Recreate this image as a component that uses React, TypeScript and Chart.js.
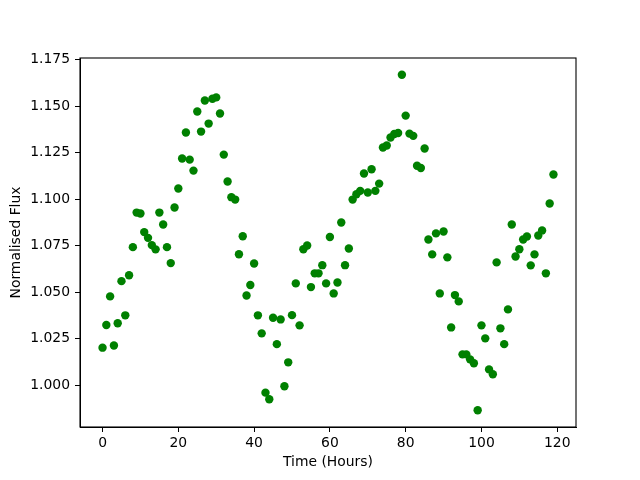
import React, { useEffect, useRef } from "react";
import { Chart, registerables } from "chart.js";

Chart.register(...registerables);

const hours: number[] = [
  0, 1, 2, 3, 4, 5, 6, 7, 8, 9, 10, 11, 12, 13, 14, 15, 16, 17, 18, 19,
  20, 21, 22, 23, 24, 25, 26, 27, 28, 29, 30, 31, 32, 33, 34, 35, 36, 37, 38, 39,
  40, 41, 42, 43, 44, 45, 46, 47, 48, 49, 50, 51, 52, 53, 54, 55, 56, 57, 58, 59,
  60, 61, 62, 63, 64, 65, 66, 67, 68, 69, 70, 71, 72, 73, 74, 75, 76, 77, 78, 79,
  80, 81, 82, 83, 84, 85, 86, 87, 88, 89, 90, 91, 92, 93, 94, 95, 96, 97, 98, 99,
  100, 101, 102, 103, 104, 105, 106, 107, 108, 109, 110, 111, 112, 113, 114, 115, 116, 117, 118, 119,
];

const flux: number[] = [
  1.0201, 1.0323, 1.0477, 1.0213, 1.0332, 1.0559, 1.0375, 1.0591, 1.0742, 1.0928,
  1.0923, 1.0823, 1.0792, 1.0753, 1.073, 1.0928, 1.0864, 1.0742, 1.0656, 1.0955,
  1.1058, 1.1219, 1.1359, 1.1213, 1.1154, 1.1472, 1.1364, 1.1531, 1.1407, 1.1541,
  1.1548, 1.1461, 1.124, 1.1095, 1.1011, 1.0998, 1.0704, 1.0801, 1.0482, 1.0538,
  1.0654, 1.0375, 1.0278, 0.9959, 0.9923, 1.0362, 1.022, 1.0353, 0.9993, 1.0122,
  1.0376, 1.0547, 1.0321, 1.0731, 1.0751, 1.0527, 1.0601, 1.0601, 1.0645, 1.0547,
  1.0797, 1.0493, 1.0552, 1.0875, 1.0645, 1.0735, 1.0998, 1.1027, 1.1045, 1.1138,
  1.1036, 1.1161, 1.1045, 1.1084, 1.1278, 1.1289, 1.1332, 1.1351, 1.1356, 1.167,
  1.145, 1.1353, 1.1341, 1.118, 1.1168, 1.1273, 1.0783, 1.0703, 1.0816, 1.0493,
  1.0826, 1.0687, 1.031, 1.0484, 1.045, 1.0165, 1.0165, 1.0138, 1.0117, 0.9864,
  1.0321, 1.0251, 1.0084, 1.0058, 1.066, 1.0305, 1.022, 1.0407, 1.0864, 1.0692,
  1.0731, 1.0783, 1.0799, 1.0644, 1.0703, 1.0805, 1.0832, 1.0601, 1.0977, 1.1133,
];

const xTicks: number[] = [0, 20, 40, 60, 80, 100, 120];
const yTicks: number[] = [1.0, 1.025, 1.05, 1.075, 1.1, 1.125, 1.15, 1.175];

const xLabel = "Time (Hours)";
const yLabel = "Normalised Flux";

const FONT = { family: "'DejaVu Sans', sans-serif", size: 13.9 };

const boxPlugin = {
  id: "frameBox",
  afterDatasetsDraw(chart: any) {
    const { ctx, chartArea } = chart;
    ctx.save();
    ctx.strokeStyle = "#000000";
    ctx.lineWidth = 1.1;
    ctx.strokeRect(
      chartArea.left,
      chartArea.top,
      chartArea.right - chartArea.left,
      chartArea.bottom - chartArea.top
    );
    ctx.restore();
  },
};

export default function App() {
  const canvasRef = useRef<HTMLCanvasElement | null>(null);

  useEffect(() => {
    document.body.style.margin = "0";
    const canvas = canvasRef.current;
    if (!canvas) return;
    const points = hours.map((h, i) => ({ x: h, y: flux[i] }));
    const chart = new Chart(canvas, {
      type: "scatter",
      data: {
        datasets: [
          {
            data: points,
            backgroundColor: "#008000",
            borderColor: "#008000",
            borderWidth: 0,
            pointRadius: 4.2,
            pointHoverRadius: 4.2,
          },
        ],
      },
      options: {
        responsive: false,
        animation: false,
        events: [],
        layout: { padding: { top: 58, right: 64, bottom: 0, left: 0 } },
        plugins: {
          legend: { display: false },
          tooltip: { enabled: false },
        },
        scales: {
          x: {
            type: "linear",
            min: -5.95,
            max: 124.95,
            afterBuildTicks: (scale: any) => {
              scale.ticks = xTicks.map((v) => ({ value: v }));
            },
            afterFit: (scale: any) => {
              scale.height = 53;
            },
            grid: {
              drawOnChartArea: false,
              drawTicks: true,
              tickLength: 5,
              tickColor: "#000000",
              tickWidth: 1,
            },
            border: { display: true, color: "#000000", width: 1 },
            ticks: {
              color: "#000000",
              font: FONT,
              padding: 3,
              maxRotation: 0,
              autoSkip: false,
              callback: (v: any) => String(v),
            },
            title: {
              display: true,
              text: xLabel,
              color: "#000000",
              font: FONT,
              padding: { top: 0, bottom: 9 },
            },
          },
          y: {
            type: "linear",
            min: 0.9774,
            max: 1.176,
            afterBuildTicks: (scale: any) => {
              scale.ticks = yTicks.map((v) => ({ value: v }));
            },
            afterFit: (scale: any) => {
              scale.width = 80;
            },
            grid: {
              drawOnChartArea: false,
              drawTicks: true,
              tickLength: 5,
              tickColor: "#000000",
              tickWidth: 1,
            },
            border: { display: true, color: "#000000", width: 1 },
            ticks: {
              color: "#000000",
              font: FONT,
              padding: 5,
              autoSkip: false,
              callback: (v: any) => Number(v).toFixed(3),
            },
            title: {
              display: true,
              text: yLabel,
              color: "#000000",
              font: FONT,
              padding: { top: 8, bottom: 0 },
            },
          },
        },
      },
      plugins: [boxPlugin],
    });
    return () => chart.destroy();
  }, []);

  return (
    <div style={{ position: "absolute", left: 0, top: 0, width: 640, height: 480, background: "#ffffff" }}>
      <canvas ref={canvasRef} width={640} height={480} style={{ width: 640, height: 480, display: "block" }} />
    </div>
  );
}
